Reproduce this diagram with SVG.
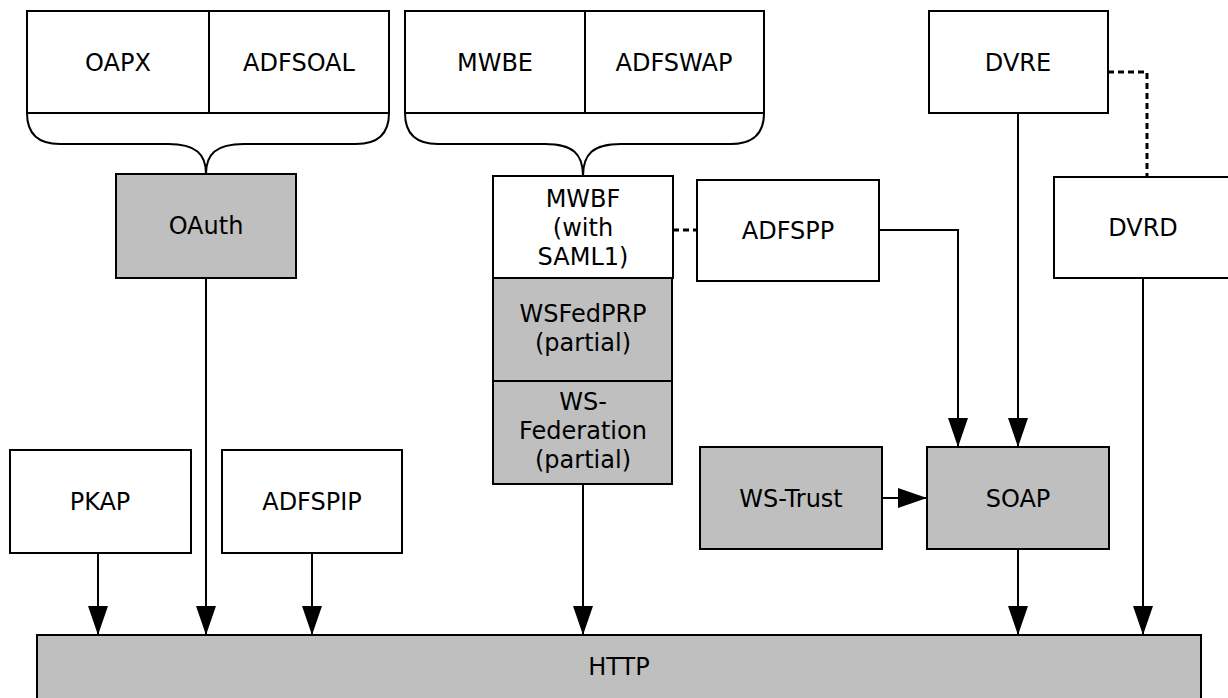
<svg xmlns="http://www.w3.org/2000/svg" width="1228" height="698" viewBox="0 0 1228 698">
<style>
.b{fill:#fff;stroke:#000;stroke-width:2}
.g{fill:#bfbfbf;stroke:#000;stroke-width:2}
.br{fill:none;stroke:#000;stroke-width:2}
text{font-family:"DejaVu Sans",Verdana,sans-serif;font-size:24px;fill:#000;text-anchor:middle}
.c{fill:none;stroke:#000;stroke-width:2}
.a{marker-end:url(#ah)}
.d{fill:none;stroke:#000;stroke-width:3;stroke-dasharray:6,4}
</style>
<defs>
<marker id="ah" markerUnits="userSpaceOnUse" markerWidth="30" markerHeight="20" refX="29" refY="10" orient="auto">
<path d="M0,0 L29,10 L0,20 z" fill="#000"/>
</marker>
</defs>
<g id="oapx-group">
<g id="OAPX"><rect class="b" x="27" y="11" width="182" height="102"/><text x="118" y="71">OAPX</text></g>
<g id="ADFSOAL"><rect class="b" x="209" y="11" width="180" height="102"/><text x="299" y="71">ADFSOAL</text></g>
<path class="br" d="M27,113 Q27,144 60,144 L168,144 C196,144 206,154 206,174 C206,154 216,144 244,144 L356,144 Q389,144 389,113"/>
</g>
<g id="mwbe-group">
<g id="MWBE"><rect class="b" x="405" y="11" width="180" height="102"/><text x="495" y="71">MWBE</text></g>
<g id="ADFSWAP"><rect class="b" x="585" y="11" width="179" height="102"/><text x="674" y="71">ADFSWAP</text></g>
<path class="br" d="M405,113 Q405,144 438,144 L545,144 C573,144 583,154 583,176 C583,154 593,144 621,144 L731,144 Q764,144 764,113"/>
</g>
<g id="OAuth"><rect class="g" x="116" y="174" width="180" height="104"/><text x="206" y="234">OAuth</text></g>
<g id="MWBF"><rect class="b" x="493" y="176" width="180" height="102"/><text x="583" y="207">MWBF</text><text x="583" y="236">(with</text><text x="583" y="265">SAML1)</text></g>
<g id="WSFedPRP"><rect class="g" x="493" y="278" width="179" height="103"/><text x="583" y="322">WSFedPRP</text><text x="583" y="351">(partial)</text></g>
<g id="WS-Federation"><rect class="g" x="493" y="381" width="179" height="103"/><text x="583" y="410">WS-</text><text x="583" y="439">Federation</text><text x="583" y="468">(partial)</text></g>
<g id="ADFSPP"><rect class="b" x="697" y="180" width="182" height="101"/><text x="788" y="239">ADFSPP</text></g>
<g id="DVRE"><rect class="b" x="929" y="11" width="179" height="102"/><text x="1018" y="71">DVRE</text></g>
<g id="DVRD"><rect class="b" x="1054" y="177" width="180" height="101"/><text x="1143" y="236">DVRD</text></g>
<g id="PKAP"><rect class="b" x="10" y="450" width="181" height="103"/><text x="100" y="510">PKAP</text></g>
<g id="ADFSPIP"><rect class="b" x="222" y="450" width="180" height="103"/><text x="312" y="510">ADFSPIP</text></g>
<g id="WS-Trust"><rect class="g" x="700" y="447" width="182" height="102"/><text x="791" y="507">WS-Trust</text></g>
<g id="SOAP"><rect class="g" x="927" y="447" width="182" height="102"/><text x="1018" y="507">SOAP</text></g>
<g id="HTTP"><rect class="g" x="37" y="635" width="1164" height="80"/><text x="619" y="675">HTTP</text></g>
<g id="connectors">
<path class="c a" d="M206,278 V635"/>
<path class="c a" d="M98,553 V635"/>
<path class="c a" d="M312,553 V635"/>
<path class="c a" d="M583,484 V635"/>
<path class="c a" d="M879,230 H958 V447"/>
<path class="c a" d="M1018,113 V447"/>
<path class="c a" d="M882,498 H927"/>
<path class="c a" d="M1018,549 V635"/>
<path class="c a" d="M1143,278 V635"/>
<path class="d" d="M673,230 H697"/>
<path class="d" d="M1108,72 H1147 V177"/>
</g>
</svg>
